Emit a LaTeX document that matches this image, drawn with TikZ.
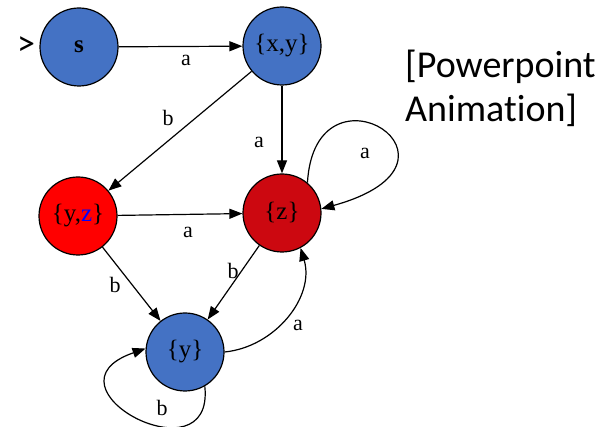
\documentclass[tikz,border=0pt]{standalone}
\usepackage{fontspec}
\setmainfont{Liberation Serif}
\newfontfamily\calibri[Ligatures=NoCommon]{Carlito}
\usetikzlibrary{arrows.meta}
\definecolor{stateblue}{HTML}{4472C4}
\definecolor{statered}{HTML}{FF0000}
\definecolor{statedark}{RGB}{204,8,16}
\begin{document}
\begin{tikzpicture}[x=1pt,y=1pt,
  state/.style={circle,draw=black,line width=1.2pt,minimum size=78pt,inner sep=0pt,
    font=\fontsize{25}{28}\selectfont},
  trans/.style={-{Triangle[length=13pt,width=10pt]},line width=1.2pt},
  lbl/.style={font=\fontsize{22}{24}\selectfont,inner sep=0pt}]
\useasboundingbox (0,0) rectangle (609,427);

% states
\node[state,fill=stateblue] (s) at (79,380) {\textbf{s}};
\node[state,fill=stateblue] (xy) at (282,381) {\{x,y\}};
\node[state,fill=statered] (yz) at (78,211) {\{y,\textcolor{blue}{z}\}};
\node[state,fill=statedark] (z) at (282,214) {\{z\}};
\node[state,fill=stateblue] (y) at (185,75) {\{y\}};

% start marker
\node[font=\calibri\fontsize{36}{40}\selectfont,inner sep=0pt] (start) at (26,381) {>};

% transitions
\draw[trans] (s) -- (xy);
\draw[trans] (xy) -- (yz);
\draw[trans] (xy) -- (z);
\draw[trans] (yz) -- (z);
\draw[trans] (yz) -- (y);
\draw[trans] (z) -- (y);
\draw[trans] (z.50) .. controls (315,375) and (490,265) .. (z.6);
\draw[trans] (y.east) .. controls (275,80) and (315,130) .. (z.-62);
\draw[trans] (y.-60) .. controls (215,-55) and (35,40) .. (y.175);

% transition labels
\node[lbl] (l1) at (186,367) {a};
\node[lbl] (l2) at (168,309) {b};
\node[lbl] (l3) at (259,285) {a};
\node[lbl] (l4) at (365,274) {a};
\node[lbl] (l5) at (188,195) {a};
\node[lbl] (l6) at (115,142) {b};
\node[lbl] (l7) at (233,156) {b};
\node[lbl] (l8) at (298,102) {a};
\node[lbl] (l9) at (162,19) {b};

% note
\node[font=\calibri\fontsize{38}{44}\selectfont,align=left,anchor=base west,inner sep=0pt]
  (note) at (405,305) {[Powerpoint\\Animation]};
\end{tikzpicture}
\end{document}
